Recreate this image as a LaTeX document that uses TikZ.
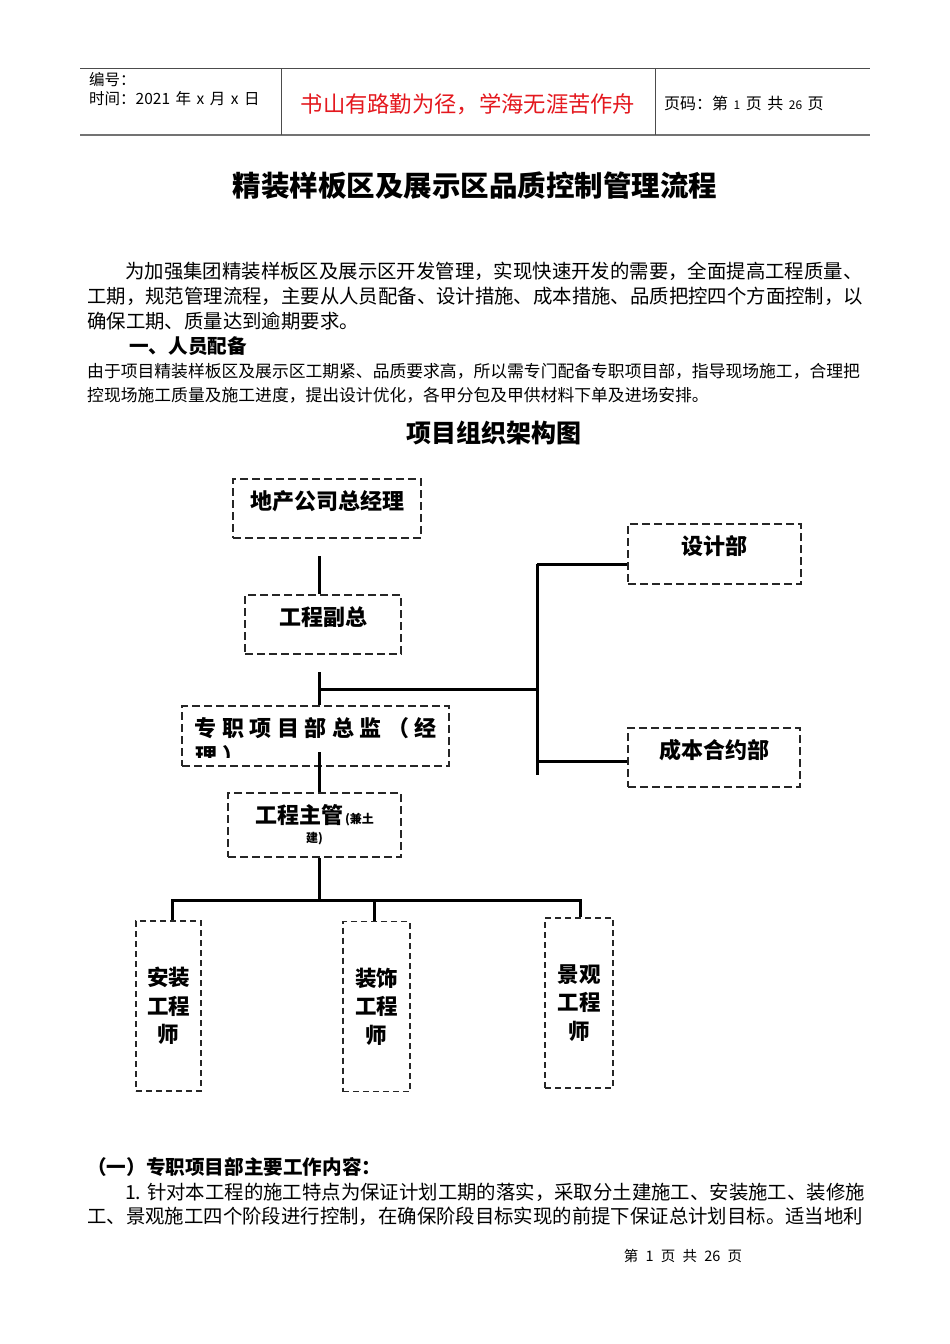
\documentclass[tikz,border=0pt]{standalone}
\usepackage{fontspec}
\setmainfont{Noto Sans CJK SC}
\definecolor{motto}{RGB}{228,24,30}

\begin{document}
\begin{tikzpicture}[x=1pt, y=-1pt,
      dept/.style  = {rectangle, draw=black!85, line width=1.6pt,
                      dash pattern=on 8pt off 4pt, inner sep=0pt,
                      text height=30pt, font=\fontsize{22}{25}\selectfont\bfseries},
      staff/.style = {rectangle, draw=black!85, line width=1.4pt,
                      dash pattern=on 6pt off 4pt, inner sep=0pt,
                      minimum height=170pt, align=center,
                      font=\fontsize{21.5}{28.5}\selectfont\bfseries},
      link/.style  = {line width=3pt, black},
      rule/.style  = {draw=black!70, line width=1pt},
      head/.style  = {anchor=base west, inner sep=0pt, font=\fontsize{15.5}{18}\selectfont},
      body/.style  = {anchor=base west, inner sep=0pt, font=\fontsize{19.4}{25}\selectfont},
      note/.style  = {anchor=base west, inner sep=0pt, font=\fontsize{16.8}{24}\selectfont},
      sect/.style  = {anchor=base west, inner sep=0pt, font=\fontsize{19.6}{25}\selectfont\bfseries}
    ]
    \useasboundingbox[fill=white] (0,0) rectangle (950,1344);

    \draw[rule] (80,68) -- (870,68);
    \draw[draw=black!55, line width=2pt] (80,135) -- (870,135);
    \draw[rule] (281,68) -- (281,135);
    \draw[rule] (655,68) -- (655,135);
    \node[head] (code) at (89,85.7) {编号：};
    \node[head] (date) at (89,104.7)
      {时间：2021\hspace{5.5pt}年\hspace{5.5pt}x\hspace{5.5pt}月\hspace{5.5pt}x\hspace{5.5pt}日};
    \node[anchor=base, inner sep=0pt, text=motto, font=\fontsize{22.3}{25}\selectfont]
      (motto) at (468,112.4) {书山有路勤为径，学海无涯苦作舟};
    \node[head, font=\fontsize{16}{18}\selectfont] (pageno) at (664,109)
      {页码：第\hspace{5.5pt}{\fontsize{12}{14}\selectfont 1}\hspace{5.5pt}页\hspace{5.5pt}共\hspace{5.5pt}{\fontsize{12}{14}\selectfont 26}\hspace{5.5pt}页};

    \node[anchor=base, inner sep=0pt, font=\fontsize{28.5}{32}\selectfont\bfseries]
      (title) at (475,196) {精装样板区及展示区品质控制管理流程};

    \node[body] (p1a) at (125,278.4) {为加强集团精装样板区及展示区开发管理，实现快速开发的需要，全面提高工程质量、};
    \node[body] (p1b) at (87,303.4)  {工期，规范管理流程，主要从人员配备、设计措施、成本措施、品质把控四个方面控制，以};
    \node[body] (p1c) at (87,328.4)  {确保工期、质量达到逾期要求。};
    \node[sect] (s1)  at (129,353.4) {一、人员配备};
    \node[note] (p2a) at (87,377.4)  {由于项目精装样板区及展示区工期紧、品质要求高，所以需专门配备专职项目部，指导现场施工，合理把};
    \node[note] (p2b) at (87,401.4)  {控现场施工质量及施工进度，提出设计优化，各甲分包及甲供材料下单及进场安排。};

    \node[anchor=base, inner sep=0pt, font=\fontsize{25}{28}\selectfont\bfseries]
      (chart) at (494,442.5) {项目组织架构图};

    \node[dept, minimum width=188pt, text depth=29pt] (gm)     at (327,508.5) {地产公司总经理};
    \node[dept, minimum width=156pt, text depth=29pt] (vp)     at (323,624.5) {工程副总};
    \node[dept, minimum width=267pt, text depth=30pt] (pm)     at (315.5,736)
      {\addfontfeature{LetterSpace=25}专职项目部总监（经};
    \node[dept, minimum width=173pt, text depth=34pt] (eng)    at (314.5,825)
      {\begin{tabular}[t]{@{}c@{}}工程主管{\fontsize{12}{14}\selectfont\,(兼土}\\[-5.5pt]{\fontsize{12}{14}\selectfont 建)}\end{tabular}};
    \node[dept, minimum width=173pt, text depth=30pt] (design) at (714.5,554) {设计部};
    \node[dept, minimum width=172pt, text depth=29pt] (cost)   at (714,757.5) {成本合约部};

    \begin{scope}
      \clip (182,740) rectangle (449,757.5);
      \node[anchor=base west, inner sep=0pt, font=\fontsize{22}{25}\selectfont\bfseries]
        (pmrest) at (195,764.5) {\addfontfeature{LetterSpace=25}理）};
    \end{scope}

    \node[staff, minimum width=65pt] (inst) at (168.5,1006)  {安装\\工程\\师};
    \node[staff, minimum width=67pt] (deco) at (376.5,1006.5) {装饰\\工程\\师};
    \node[staff, minimum width=68pt] (land) at (579,1003)    {景观\\工程\\师};

    \coordinate (t1)    at (319,556);
    \coordinate (t2)    at (319,672);
    \coordinate (hub)   at (319,689);
    \coordinate (spine) at (537,689);
    \coordinate (sptop) at (537,564);
    \coordinate (spbot) at (537,775);
    \coordinate (cstj)  at (537,761);
    \coordinate (t3)    at (319,752);
    \coordinate (bar)   at (319,900);
    \coordinate (barl)  at (172,900);
    \coordinate (barm)  at (374,900);
    \coordinate (barr)  at (580,900);

    \draw[link] (t1) -- (t1 |- vp.north);
    \draw[link] (t2) -- (t2 |- pm.north);
    \draw[link] (hub) -- (spine);
    \draw[link] (sptop) -- (spbot);
    \draw[link] (sptop) -- (sptop -| design.west);
    \draw[link] (cstj) -- (cstj -| cost.west);
    \draw[link] (t3) -- (t3 |- eng.north);
    \draw[link] (bar |- eng.south) -- (bar);
    \draw[link] (barl |- inst.north) -- (barl) -- (barr) -- (barr |- land.north);
    \draw[link] (barm) -- (barm |- deco.north);

    \node[sect] (s2)  at (87,1174.5) {（一）专职项目部主要工作内容：};
    \node[body] (p3a) at (125,1199.4) {1. 针对本工程的施工特点为保证计划工期的落实，采取分土建施工、安装施工、装修施};
    \node[body] (p3b) at (87,1223.4)  {工、景观施工四个阶段进行控制，在确保阶段目标实现的前提下保证总计划目标。适当地利};

    \node[anchor=base, inner sep=0pt, font=\fontsize{14.5}{17}\selectfont]
      (foot) at (683,1261.5) {第\enspace 1\enspace 页\enspace 共\enspace 26\enspace 页};
  \end{tikzpicture}
\end{document}
